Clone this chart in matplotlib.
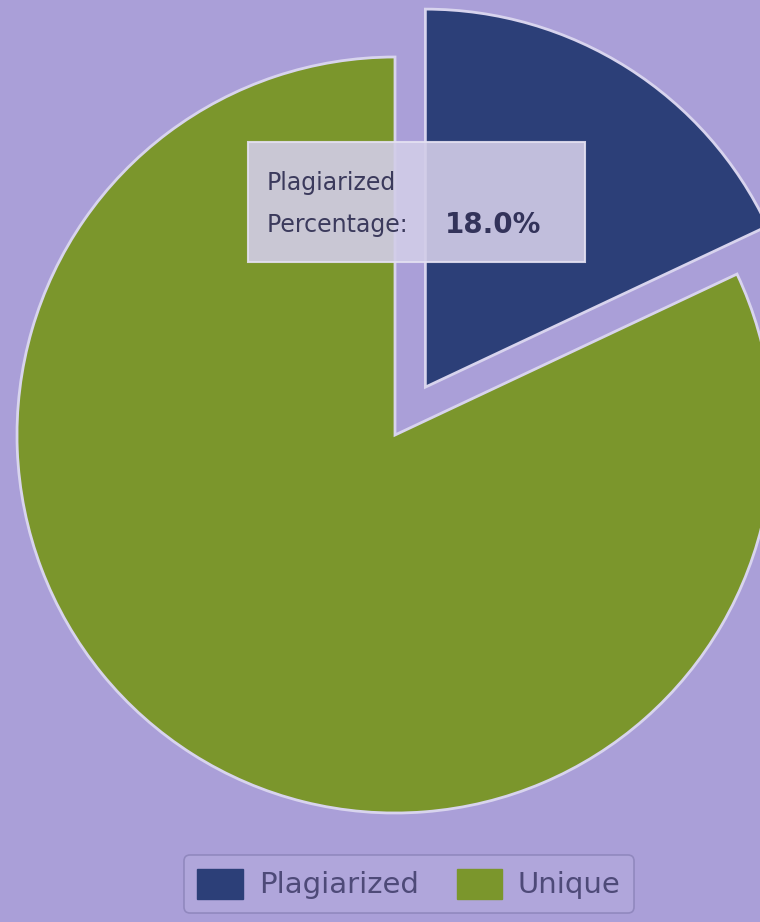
import matplotlib
matplotlib.use("Agg")
import matplotlib.pyplot as plt
from matplotlib.patches import FancyBboxPatch, Patch

labels = ["Plagiarized", "Unique"]
values = [18.0, 82.0]
colors = ["#2c3f78", "#7b962c"]
explode = [0.15, 0.0]
tooltip_title = "Plagiarized"
tooltip_label = "Percentage: "
tooltip_value = "18.0%"

W, H = 760, 922
fig = plt.figure(figsize=(W / 100, H / 100), dpi=100)
bg = "#aa9fd8"
fig.patch.set_facecolor(bg)

ax = fig.add_axes([0, 0, 1, 1])
ax.set_facecolor(bg)
R = 378.0
cx, cy = 395.0, 435.0
ax.pie(values, colors=colors, explode=explode, startangle=90, counterclock=False,
       radius=1.0, center=(0, 0),
       wedgeprops=dict(edgecolor="#d8d4ee", linewidth=2.0))
ax.set_xlim(-cx / R, (W - cx) / R)
ax.set_ylim(-(H - cy) / R, cy / R)
ax.set_aspect("equal")
ax.axis("off")

def fx(px):
    return px / W

def fy(py):
    return 1 - py / H

box = FancyBboxPatch((fx(248), fy(262)), fx(585) - fx(248), fy(142) - fy(262),
                     boxstyle="square,pad=0", transform=fig.transFigure,
                     facecolor="#d2cde8", edgecolor="#e4e1f2", linewidth=1.5, alpha=0.9)
fig.patches.append(box)
txt_color = "#3b3a5c"
fig.text(fx(267), fy(183), tooltip_title, fontsize=17, color=txt_color, va="center", ha="left")
fig.text(fx(267), fy(225), tooltip_label, fontsize=17, color=txt_color, va="center", ha="left")
fig.text(fx(445), fy(225), tooltip_value, fontsize=20, fontweight="bold", color="#33335a",
         va="center", ha="left")

handles = [Patch(facecolor=c, edgecolor=c) for c in colors]
leg = fig.legend(handles, labels, loc="center", bbox_to_anchor=(fx(409), fy(884)), ncol=2,
                 fontsize=21, frameon=True, handlelength=1.55, handleheight=1.2,
                 columnspacing=1.3, handletextpad=0.55, borderpad=0.45, borderaxespad=0)
leg.get_frame().set_facecolor("#b2a8dc")
leg.get_frame().set_edgecolor("#8a82b8")
leg.get_frame().set_linewidth(1.2)
for t in leg.get_texts():
    t.set_color("#4e4a78")

fig.savefig("out.png", dpi=100, facecolor=bg)
